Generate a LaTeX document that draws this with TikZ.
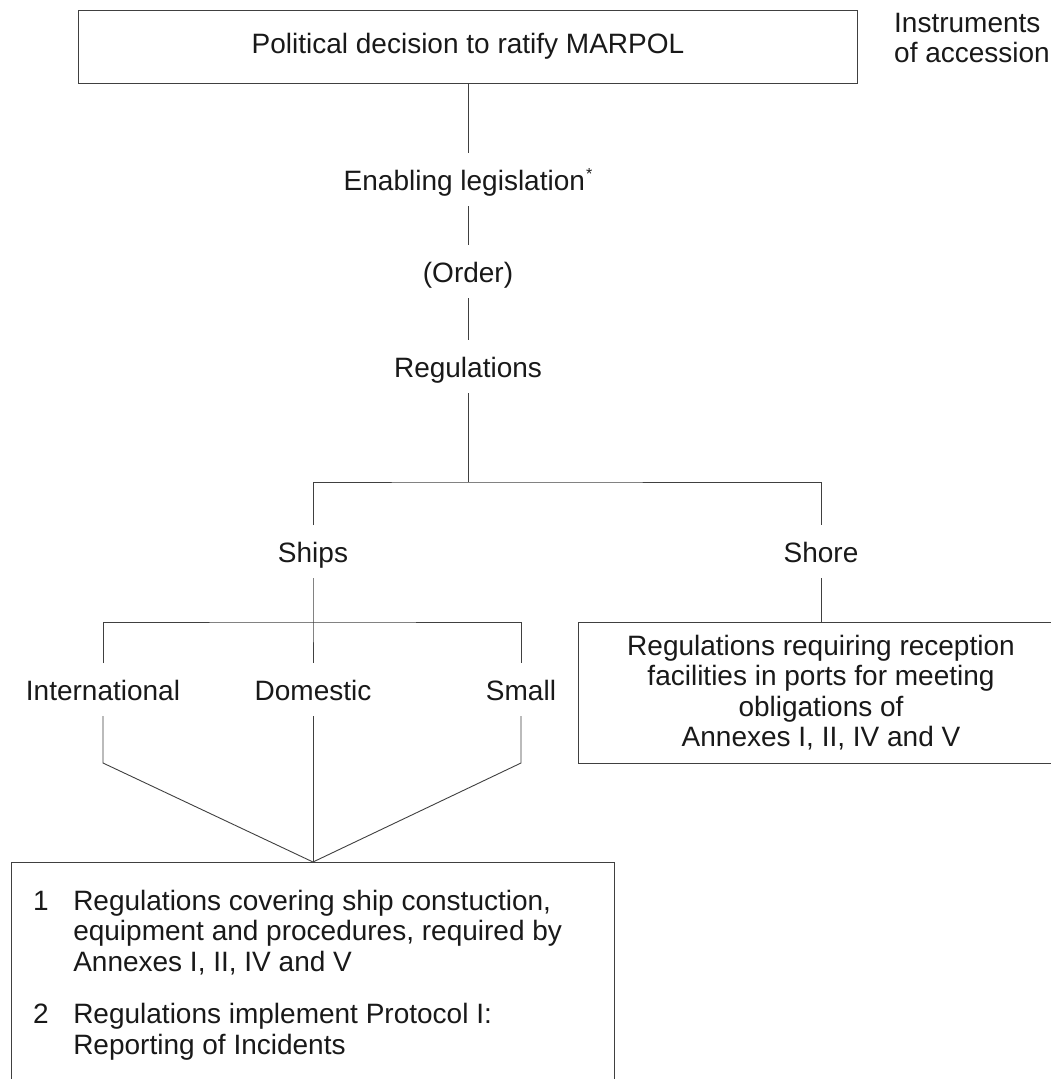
\documentclass[tikz,border=0pt]{standalone}
\usepackage{fontspec}
\setmainfont{Liberation Sans}
\newcommand\mfs{\fontsize{28pt}{30.5pt}\selectfont}
\begin{document}
\begin{tikzpicture}[x=1pt,y=-1pt,
  lbl/.style={inner sep=0pt, text height=22pt, text depth=1pt, outer ysep=15pt, font=\mfs, text=black!90, anchor=base},
  boxed/.style={draw=black!75, line width=0.9pt, inner sep=0pt, font=\mfs, text=black!90},
  conn/.style={draw=black!75, line width=0.9pt}]
\useasboundingbox (0,0) rectangle (1051,1079);
\clip (0,0) rectangle (1051,1079);
\fill[white] (0,0) rectangle (1051,1079);

% top box
\node[boxed, minimum width=779pt, minimum height=73pt] (pol) at (468,46.5) {Political decision to ratify MARPOL};
\node[anchor=north west, align=left, inner sep=0pt, font=\mfs, text=black!90] (instr) at (894,13) {Instruments\\of accession};

% chain
\node[lbl] (enab) at (468,190) {Enabling legislation\kern1pt\raisebox{11pt}{\fontsize{16pt}{16pt}\selectfont *}};
\node[lbl] (order) at (468,282) {(Order)};
\node[lbl] (regs) at (468,377) {Regulations};
\node[lbl] (ships) at (313,562) {Ships};
\node[lbl] (shore) at (821,562) {Shore};
\node[lbl] (intl) at (103,700) {International};
\node[lbl] (dom) at (313,700) {Domestic};
\node[lbl] (small) at (521,700) {Small};

% shore box
\node[boxed, minimum width=486pt, minimum height=141pt, align=center] (sbox) at (821,692.5)
  {Regulations requiring reception\\facilities in ports for meeting\\obligations of\\Annexes I, II, IV and V};

% bottom box
\node[boxed, anchor=north west, minimum width=603pt, minimum height=260pt] (bbox) at (11,862) {};
\node[anchor=base west, inner sep=0pt, font=\mfs, text=black!90] (btext) at (33,910)
  {\begin{tabular}[t]{@{}l@{\hspace{24.5pt}}l@{}}
   1 & Regulations covering ship constuction,\\
     & equipment and procedures, required by\\
     & Annexes I, II, IV and V\\[22pt]
   2 & Regulations implement Protocol I:\\
     & Reporting of Incidents
   \end{tabular}};

% connectors
\coordinate (t1) at (468,482);
\coordinate (t2) at (313,622);
\coordinate (kl) at (103,763);
\coordinate (kr) at (521,763);
\coordinate (apex) at (313,862);
\draw[conn] (pol.south) -- (enab.north);
\draw[conn] (enab.south) -- (order.north);
\draw[conn] (order.south) -- (regs.north);
\draw[conn] (regs.south) -- (t1);
\draw[conn] (ships.north) |- (t1) -| (shore.north);
\draw[conn] (ships.south) -- (t2) -- (dom.north);
\draw[conn] (intl.north) |- (t2) -| (small.north);
\draw[conn] (intl.south) -- (kl) -- (apex) -- (kr) -- (small.south);
\draw[conn] (dom.south) -- (apex);
\draw[conn] (shore.south) -- (sbox.north);
\end{tikzpicture}
\end{document}
